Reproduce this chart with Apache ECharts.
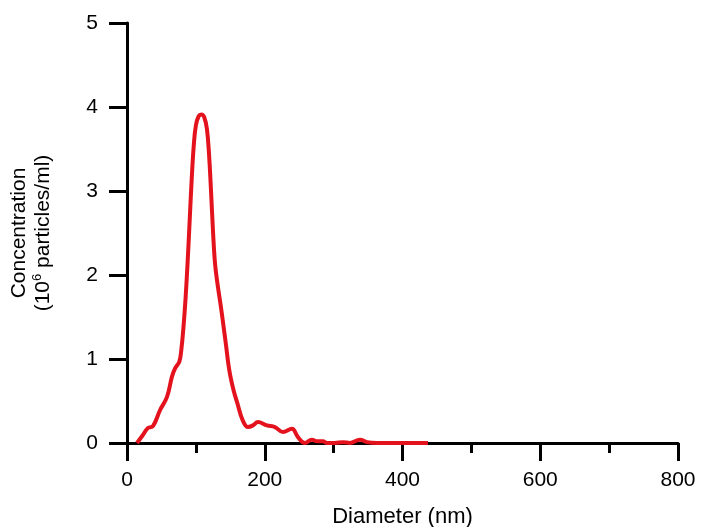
<!DOCTYPE html>
<html>
<head>
<meta charset="utf-8">
<script src="https://cdn.jsdelivr.net/npm/echarts@6/dist/echarts.min.js"></script>
<style>html,body{margin:0;padding:0;background:#fff}#c{width:704px;height:527px}</style>
</head>
<body>
<div id="c"></div>
<script>
const diameters = [14.5, 21.8, 30.5, 37.7, 47.9, 58.1, 65.3, 70, 76, 79, 82, 85, 88, 91, 94, 97, 100, 104, 108, 112, 116, 119, 122, 125, 128, 132, 136, 140, 144, 147, 150, 155, 160, 168, 175.6, 183, 190.1, 203.2, 214.8, 226.4, 239.5, 248.2, 258.3, 268.5, 275.8, 284.5, 290.3, 301.9, 313.5, 323.7, 338.2, 348.3, 362.8, 381.7, 436.9];
const concentration = [0, 0.08, 0.18, 0.20, 0.39, 0.55, 0.79, 0.89, 0.97, 1.12, 1.38, 1.72, 2.15, 2.65, 3.15, 3.55, 3.78, 3.89, 3.91, 3.88, 3.74, 3.45, 3.0, 2.5, 2.12, 1.86, 1.64, 1.40, 1.15, 0.95, 0.80, 0.62, 0.48, 0.27, 0.19, 0.21, 0.25, 0.21, 0.19, 0.13, 0.17, 0.07, 0, 0.04, 0.02, 0.02, 0, 0, 0.01, 0, 0.04, 0.01, 0, 0, 0];
const xTicks = [0, 200, 400, 600, 800];
const yTicks = [0, 1, 2, 3, 4, 5];

const font = 'Liberation Sans, Arial, Helvetica, sans-serif';
const chart = echarts.init(document.getElementById('c'), null, {renderer: 'canvas'});
chart.setOption({
  animation: false,
  backgroundColor: '#fff',
  grid: {left: 127, right: 26, top: 23, bottom: 84, containLabel: false, outerBoundsMode: 'none'},
  xAxis: {
    type: 'value', min: xTicks[0], max: xTicks[xTicks.length - 1], interval: 200,
    name: 'Diameter (nm)', nameLocation: 'middle', nameGap: 63,
    nameTextStyle: {fontFamily: font, fontSize: 22, color: '#000'},
    axisLine: {show: true, onZero: false, lineStyle: {color: '#000', width: 3}},
    axisTick: {show: true, length: 18, lineStyle: {color: '#000', width: 3}},
    minorTick: {show: true, splitNumber: 2, length: 10, lineStyle: {color: '#000', width: 3}},
    axisLabel: {fontFamily: font, fontSize: 21, color: '#000', margin: 27},
    splitLine: {show: false}, minorSplitLine: {show: false}
  },
  yAxis: {
    type: 'value', min: yTicks[0], max: yTicks[yTicks.length - 1], interval: 1,
    name: '{a|Concentration}\n{a|(10}{s|6}{a| particles/ml)}', nameLocation: 'middle', nameGap: 72,
    nameTextStyle: {
      fontFamily: font, fontSize: 21, color: '#000',
      rich: {
        a: {fontFamily: font, fontSize: 21, color: '#000', lineHeight: 24},
        s: {fontFamily: font, fontSize: 13, color: '#000', lineHeight: 24, verticalAlign: 'top', padding: [0, 0, 8, 0]}
      }
    },
    axisLine: {show: true, lineStyle: {color: '#000', width: 3}},
    axisTick: {show: true, length: 18, lineStyle: {color: '#000', width: 3}},
    axisLabel: {fontFamily: font, fontSize: 21, color: '#000', margin: 29},
    splitLine: {show: false}
  },
  series: [{
    type: 'line',
    data: diameters.map((d, i) => [d, concentration[i]]),
    showSymbol: false,
    smooth: 0.4,
    lineStyle: {color: '#e3121c', width: 4},
    z: 1
  }]
});
</script>
</body>
</html>
